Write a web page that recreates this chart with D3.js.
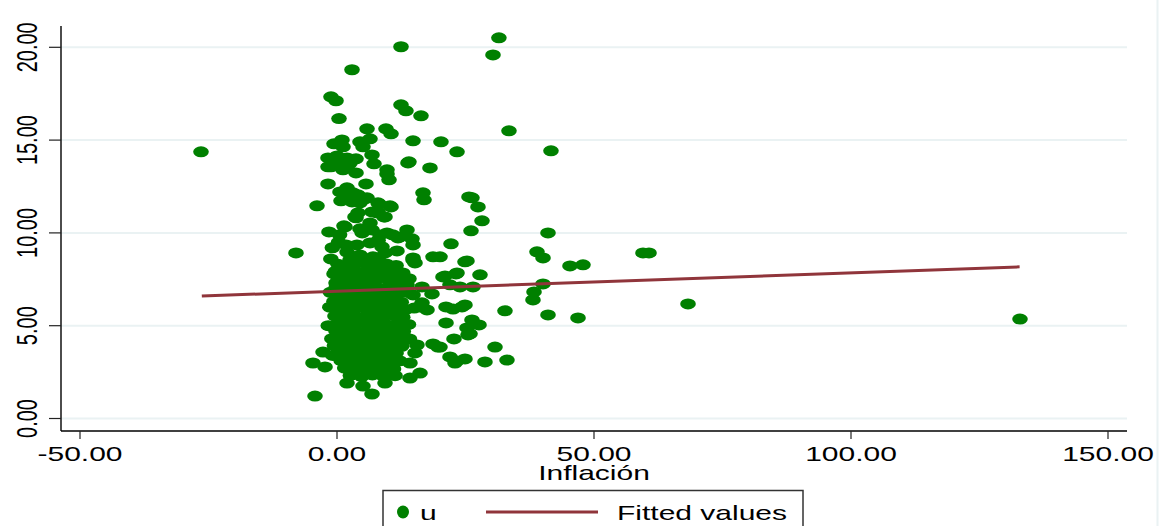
<!DOCTYPE html>
<html>
<head>
<meta charset="utf-8">
<script src="https://cdn.jsdelivr.net/npm/d3@7"></script>
<style>
  body { margin: 0; background: #fff; }
  text { font-family: "Liberation Sans", Arial, sans-serif; fill: #000; }
</style>
</head>
<body>
<svg id="chart" width="1166" height="526"></svg>
<script>
// tick values for both axes
var xTicks = [-50, 0, 50, 100, 150];
var yTicks = [0, 5, 10, 15, 20];

// scatter: [Inflación, u]
var points = [
  [31.5, 20.51], [12.45, 20.03], [30.35, 19.59], [2.92, 18.79], [-1.17, 17.33], [-0.19, 17.12],
  [12.45, 16.9], [13.42, 16.58], [16.34, 16.31], [0.39, 16.16], [33.46, 15.5], [5.84, 15.61],
  [9.53, 15.61], [10.51, 15.34], [14.79, 14.96], [20.23, 14.91], [23.35, 14.37], [-26.46, 14.37],
  [41.63, 14.42], [0.97, 15.01], [-0.58, 14.8], [4.47, 14.91], [6.42, 15.07], [5.06, 14.64],
  [1.17, 14.64], [-1.75, 14.04], [0, 14.15], [1.95, 14.04], [3.7, 13.99], [6.81, 14.2],
  [7.2, 13.72], [14.0, 13.83], [18.09, 13.5], [-1.17, 13.56], [1.95, 13.5], [9.73, 13.4],
  [2.53, 13.75], [3.7, 13.23], [-1.75, 12.64], [5.64, 12.64], [9.73, 13.18], [10.12, 12.86],
  [16.73, 12.16], [16.93, 11.78], [26.26, 11.89], [27.43, 11.4], [28.21, 10.65], [-3.89, 11.46],
  [1.36, 12.21], [2.53, 11.94], [0.78, 11.73], [4.09, 12.05], [2.92, 11.67], [5.45, 11.83],
  [8.17, 11.56], [10.51, 11.4], [6.81, 11.13], [7.98, 11.13], [3.7, 10.81], [9.14, 10.86],
  [6.42, 10.54], [1.36, 10.38], [26.07, 10.11], [41.05, 10.0], [13.62, 10.16], [-1.56, 10.05],
  [1.56, 10.32], [4.47, 10.22], [6.81, 10.16], [8.37, 9.89], [9.73, 10.0], [12.26, 9.78],
  [14.59, 9.68], [14.79, 9.35], [22.18, 9.41], [20.04, 8.71], [38.91, 8.98], [40.08, 8.65],
  [59.53, 8.92], [60.7, 8.92], [45.33, 8.22], [47.86, 8.28], [25.29, 8.49], [23.15, 7.79],
  [21.01, 7.68], [27.82, 7.74], [40.08, 7.25], [38.33, 6.82], [38.13, 6.39], [21.98, 7.2],
  [23.93, 7.09], [26.46, 7.09], [68.29, 6.17], [21.21, 6.01], [22.57, 5.9], [24.9, 6.12],
  [32.68, 5.8], [41.05, 5.58], [46.89, 5.42], [21.21, 5.15], [26.26, 5.31], [27.63, 5.04],
  [25.29, 4.88], [25.88, 4.56], [22.76, 4.29], [20.04, 3.85], [30.74, 3.85], [21.98, 3.32],
  [22.96, 2.99], [24.9, 3.21], [28.79, 3.05], [33.07, 3.15], [132.88, 5.36], [-7.98, 8.92],
  [18.68, 8.71], [14.79, 8.65], [15.18, 8.38], [11.67, 9.03], [11.87, 9.73], [20.62, 7.63],
  [23.35, 7.84], [-0.58, 7.79], [-0.19, 7.3], [18.48, 6.71], [16.15, 6.01], [17.51, 5.85],
  [18.68, 4.02], [19.65, 3.85], [-2.72, 3.58], [-4.67, 2.99], [-2.33, 2.78], [-4.28, 1.21],
  [1.95, 1.91], [5.06, 1.75], [6.81, 1.32], [9.34, 1.91], [14.2, 2.18], [16.15, 2.45],
  [15.56, 3.96], [15.18, 3.53], [14.2, 2.99], [16.54, 6.23], [14.79, 6.66], [16.54, 7.09],
  [13.62, 7.2], [12.65, 7.74], [14.79, 8.54], [24.32, 6.01], [25.49, 4.5], [23.35, 3.1],
  [13.81, 13.77], [25.68, 11.94], [-1.75, 13.56], [0, 13.77], [1.17, 13.4], [0.58, 12.21],
  [1.95, 12.43], [3.11, 12.16], [2.53, 11.78], [5.84, 11.89], [4.47, 11.62], [7.98, 11.62],
  [10.31, 11.46], [7.78, 11.08], [9.34, 10.86], [4.09, 11.08], [3.5, 10.86], [1.75, 9.35],
  [3.89, 9.35], [6.42, 9.46], [8.75, 9.25], [1.95, 8.97], [4.47, 8.81], [7.0, 8.71],
  [9.34, 8.92], [2.53, 8.54], [5.84, 8.38], [8.37, 8.44], [11.28, 8.17], [24.9, 8.44],
  [-0.9, 9.2], [0.5, 9.9], [4.9, 10.0], [8.0, 9.6], [10.8, 9.9], [-1.2, 8.6], [0.3, 9.5],
  [-1.4, 6.0], [-1.7, 5.0], [-1.0, 4.3], [-1.3, 6.8], [-0.8, 3.4],
  // dense core
  [0.2, 8.31], [2.1, 8.22], [3.8, 8.36], [6.0, 8.27], [7.9, 8.18], [9.6, 8.33], [11.5, 8.25],
  [-0.3, 7.93], [1.4, 7.86], [3.3, 7.97], [5.2, 7.88], [7.1, 7.82], [8.8, 7.95], [10.7, 7.9], [12.8, 7.84],
  [0.6, 7.52], [2.6, 7.46], [4.4, 7.55], [6.3, 7.44], [8.2, 7.57], [10.1, 7.49], [12.2, 7.41], [14.0, 7.53],
  [-0.1, 7.12], [1.8, 7.05], [3.6, 7.16], [5.5, 7.08], [7.4, 7.14], [9.3, 7.02], [11.0, 7.11],
  [0.4, 6.72], [2.3, 6.66], [4.1, 6.78], [6.0, 6.69], [7.8, 6.74], [9.9, 6.65], [11.8, 6.71], [13.6, 6.8],
  [-0.6, 6.31], [1.2, 6.26], [3.1, 6.37], [5.0, 6.28], [6.9, 6.34], [8.7, 6.23], [10.6, 6.33], [12.5, 6.27],
  [0.1, 5.92], [2.0, 5.86], [3.9, 5.97], [5.8, 5.88], [7.6, 5.94], [9.5, 5.85], [11.4, 5.93], [13.3, 5.87], [15.0, 5.95],
  [-0.4, 5.52], [1.5, 5.47], [3.4, 5.56], [5.3, 5.44], [7.2, 5.53], [9.0, 5.48], [10.9, 5.57], [12.8, 5.46],
  [0.3, 5.12], [2.2, 5.06], [4.0, 5.15], [6.1, 5.08], [8.0, 5.13], [9.8, 5.04], [11.7, 5.11], [13.9, 5.07],
  [-0.2, 4.72], [1.7, 4.66], [3.6, 4.75], [5.5, 4.68], [7.3, 4.73], [9.2, 4.65], [11.1, 4.74], [12.9, 4.69],
  [0.5, 4.32], [2.4, 4.27], [4.3, 4.36], [6.2, 4.28], [8.1, 4.33], [10.0, 4.25], [12.0, 4.34], [14.1, 4.29],
  [-0.5, 3.92], [1.3, 3.86], [3.2, 3.95], [5.1, 3.88], [7.0, 3.93], [8.9, 3.85], [10.8, 3.94], [12.6, 3.89],
  [0.2, 3.52], [2.1, 3.46], [4.0, 3.55], [5.9, 3.48], [7.7, 3.54], [9.6, 3.45], [11.5, 3.53],
  [0.8, 3.12], [2.7, 3.06], [4.6, 3.15], [6.5, 3.08], [8.4, 3.13], [10.3, 3.05], [12.2, 3.11],
  [1.5, 2.72], [3.4, 2.66], [5.3, 2.75], [7.2, 2.68], [9.1, 2.73], [11.0, 2.67],
  [2.6, 2.32], [4.8, 2.26], [6.9, 2.35], [9.0, 2.28], [11.3, 2.31]
];

// fitted values line (two end points)
var fitX = [-26.3, 132.8];
var fitY = [6.6, 8.17];

var svg = d3.select("#chart");

var x = d3.scaleLinear().domain([-50, 150]).range([80, 1108]);
var y = d3.scaleLinear().domain([0, 20]).range([418.5, 47.3]);

var axisLeft = 61, axisRight = 1127, axisTop = 26, axisBottom = 431;
var stretch = "scale(1.5,1)";   // stata export is stretched horizontally

// labels use a plain hyphen for the minus sign, like stata
var fmt = function(d) { return d3.format(".2f")(d).replace("\u2212", "-"); };

// faint graph region edge
svg.append("line").attr("x1", 1157.5).attr("x2", 1157.5).attr("y1", 0).attr("y2", 526)
    .attr("stroke", "#eaf2f3").attr("stroke-width", 2);

// gridlines
svg.append("g").selectAll("line")
  .data(yTicks)
  .enter().append("line")
    .attr("x1", axisLeft).attr("x2", axisRight)
    .attr("y1", function(d) { return y(d); })
    .attr("y2", function(d) { return y(d); })
    .attr("stroke", "#eaf2f3")
    .attr("stroke-width", 2);

// scatter dots
var scatter = svg.append("g");
scatter.selectAll("ellipse")
  .data(points)
  .enter().append("ellipse")
    .attr("cx", function(d) { return x(d[0]); })
    .attr("cy", function(d) { return y(d[1]); })
    .attr("rx", 7.8)
    .attr("ry", 5.5)
    .attr("fill", "#008000");

// fitted line on top
svg.append("path")
    .datum(d3.zip(fitX, fitY))
    .attr("d", d3.line().x(function(d) { return x(d[0]); }).y(function(d) { return y(d[1]); }))
    .attr("stroke", "#90353b")
    .attr("stroke-width", 3)
    .attr("fill", "none");

// axes lines
svg.append("line").attr("x1", axisLeft).attr("x2", axisLeft).attr("y1", axisTop).attr("y2", axisBottom)
    .attr("stroke", "#000").attr("stroke-width", 1.4);
svg.append("line").attr("x1", axisLeft).attr("x2", axisRight).attr("y1", axisBottom).attr("y2", axisBottom)
    .attr("stroke", "#000").attr("stroke-width", 1.4);

// y ticks + rotated labels
var yAxis = svg.append("g").selectAll("g")
  .data(yTicks)
  .enter().append("g");
yAxis.append("line")
    .attr("x1", 49).attr("x2", axisLeft)
    .attr("y1", function(d) { return y(d); })
    .attr("y2", function(d) { return y(d); })
    .attr("stroke", "#222").attr("stroke-width", 1.2);
yAxis.append("text")
    .attr("transform", function(d) { return "translate(37," + y(d) + ") " + stretch + " rotate(-90)"; })
    .attr("text-anchor", "middle")
    .attr("font-size", 20)
    .text(fmt);

// x ticks + labels
var xAxis = svg.append("g").selectAll("g")
  .data(xTicks)
  .enter().append("g");
xAxis.append("line")
    .attr("x1", function(d) { return x(d); })
    .attr("x2", function(d) { return x(d); })
    .attr("y1", axisBottom).attr("y2", 439)
    .attr("stroke", "#222").attr("stroke-width", 1.2);
xAxis.append("text")
    .attr("transform", function(d) { return "translate(" + x(d) + ",461) " + stretch; })
    .attr("text-anchor", "middle")
    .attr("font-size", 20)
    .text(fmt);

// axis title
svg.append("text")
    .attr("transform", "translate(" + (axisLeft + axisRight) / 2 + ",480) " + stretch)
    .attr("text-anchor", "middle")
    .attr("font-size", 20)
    .text("Inflación");

// LEGEND
var legend = svg.append("g");
legend.append("rect")
    .attr("x", 383).attr("y", 490.5).attr("width", 420).attr("height", 60)
    .attr("fill", "#fff").attr("stroke", "#333").attr("stroke-width", 1.5);
legend.append("ellipse")
    .attr("cx", 403).attr("cy", 512).attr("rx", 6).attr("ry", 6.5)
    .attr("fill", "#008000");
legend.append("text")
    .attr("transform", "translate(420,520) " + stretch)
    .attr("font-size", 20)
    .text("u");
legend.append("line")
    .attr("x1", 486).attr("x2", 598).attr("y1", 512).attr("y2", 512)
    .attr("stroke", "#90353b").attr("stroke-width", 3);
legend.append("text")
    .attr("transform", "translate(617,520) " + stretch)
    .attr("font-size", 20)
    .text("Fitted values");
</script>
</body>
</html>
